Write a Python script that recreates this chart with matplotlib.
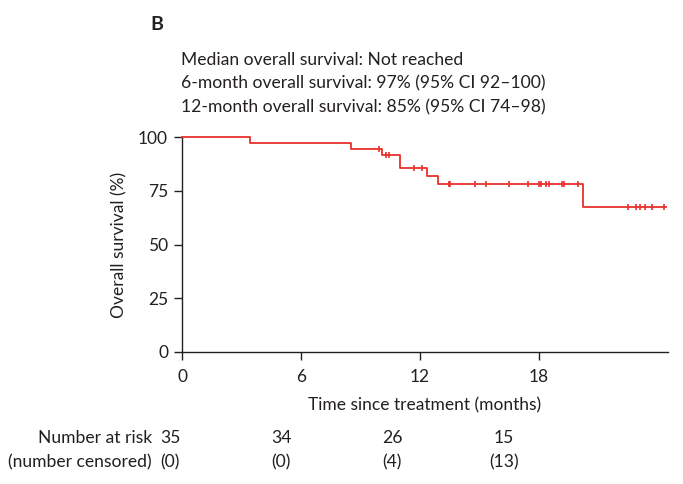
import matplotlib
matplotlib.use("Agg")
import matplotlib.pyplot as plt
import numpy as np

plt.rcParams['font.family'] = ['Lato', 'DejaVu Sans']

# Kaplan-Meier step data (time in months, survival in %)
event_times = [0, 3.43, 8.52, 10.1, 11.0, 12.36, 12.9, 20.23]
survival = [100, 97.1, 94.3, 91.4, 85.5, 81.9, 78.3, 67.6]
end_time = 24.4
censor_times = [9.95, 10.3, 10.45, 11.7, 12.1, 13.45, 13.52, 14.75, 15.3, 16.5,
                17.45, 18.0, 18.08, 18.33, 18.52, 19.16, 19.27, 19.95,
                22.46, 22.9, 23.08, 23.33, 23.67, 24.3]

xticks = [0, 6, 12, 18]
yticks = [0, 25, 50, 75, 100]
at_risk = ["35", "34", "26", "15"]
censored = ["(0)", "(0)", "(4)", "(13)"]

header = ["Median overall survival: Not reached",
          "6-month overall survival: 97% (95% CI 92\u2013100)",
          "12-month overall survival: 85% (95% CI 74\u201398)"]

W, H = 683, 484
fig = plt.figure(figsize=(W/100, H/100), dpi=100)
ax = fig.add_axes([182/W, 1-352/H, (668-182)/W, (352-137)/H])

red = '#e8302a'
ink = '#231f20'
xs = event_times + [end_time]
ys = survival + [survival[-1]]
ax.step(xs, ys, where='post', color=red, lw=1.3, clip_on=False, zorder=3)

def surv_at(t):
    idx = np.searchsorted(event_times, t, side='right') - 1
    return survival[idx]

cy = [surv_at(t) for t in censor_times]
ax.plot(censor_times, cy, linestyle='none', marker='|', color=red, ms=5, mew=1.2)

ax.set_xlim(0, 24.5)
ax.set_ylim(0, 100)
ax.set_xticks(xticks)
ax.set_yticks(yticks)
for s in ['top', 'right']:
    ax.spines[s].set_visible(False)
for s in ['left', 'bottom']:
    ax.spines[s].set_color(ink)
    ax.spines[s].set_linewidth(1.0)
ax.tick_params(direction='out', length=6, width=1.0, colors=ink,
               labelsize=12.5, pad=4)
ax.tick_params(axis='x', pad=6)

ax.set_xlabel("Time since treatment (months)", fontsize=12.5, color=ink, labelpad=9)
ax.set_ylabel("Overall survival (%)", fontsize=12.5, color=ink, labelpad=8)

fig.text(150/W, 1-25/H, "B", fontsize=14, fontweight='bold', va='center', ha='left', color=ink)
for i, line in enumerate(header):
    fig.text(181/W, 1-(60 + 23.5*i)/H, line, fontsize=12.6, va='center', ha='left', color=ink)

col_x = [170, 281, 392, 504]
fig.text(152/W, 1-438/H, "Number at risk", fontsize=12.6, ha='right', va='center', color=ink)
fig.text(152/W, 1-462/H, "(number censored)", fontsize=12.6, ha='right', va='center', color=ink)
for x, a, c in zip(col_x, at_risk, censored):
    fig.text(x/W, 1-438/H, a, fontsize=12.6, ha='center', va='center', color=ink)
    fig.text(x/W, 1-462/H, c, fontsize=12.6, ha='center', va='center', color=ink)

fig.savefig("out.png", dpi=100)
